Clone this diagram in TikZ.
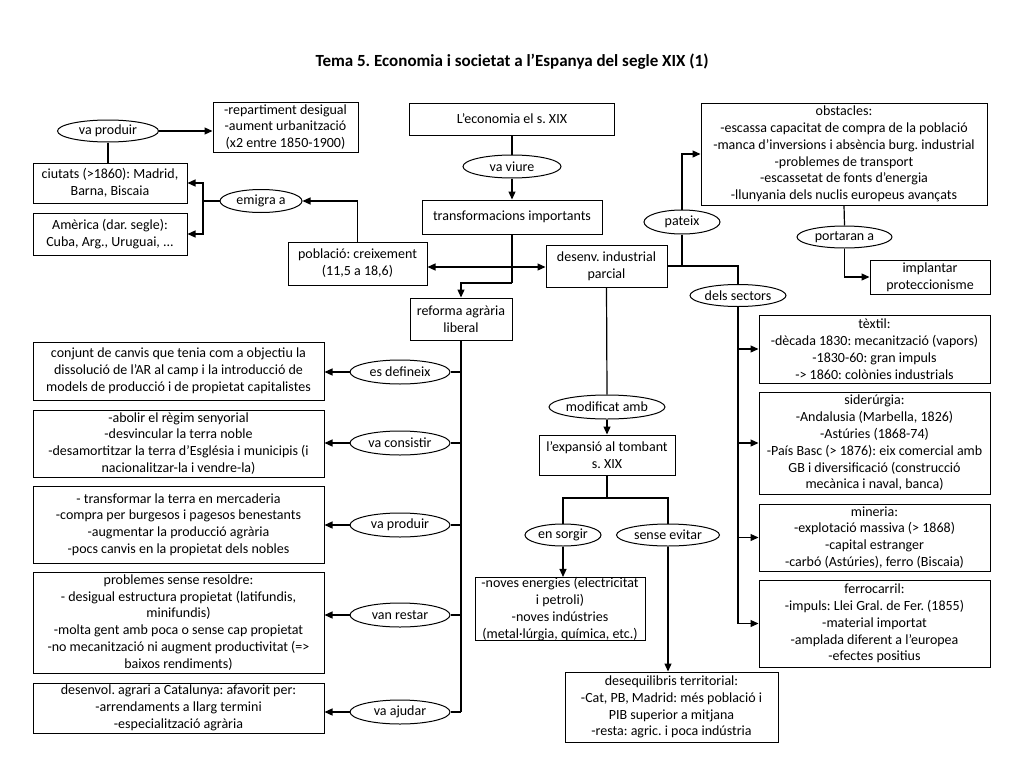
\documentclass[tikz,border=0pt]{standalone}
\usepackage{fontspec}
\setmainfont{Carlito}
\usetikzlibrary{shapes.geometric,arrows.meta}
\frenchspacing
\begin{document}
\begin{tikzpicture}[x=1pt,y=-1pt,
  txt/.style={font=\fontsize{14}{16.8}\selectfont},
  box/.style={txt,draw,line width=1pt,rectangle,inner sep=0pt,align=center},
  ell/.style={txt,draw,line width=1pt,ellipse,inner sep=0pt},
  wh/.style 2 args={minimum width=#1pt,minimum height=#2pt},
  con/.style={line width=1.2pt},
  arr/.style={con,-{Triangle[length=8pt,width=7pt]}},
  arrb/.style={con,{Triangle[length=8pt,width=7pt]}-{Triangle[length=8pt,width=7pt]}},
  ]
\useasboundingbox (0,0) rectangle (1024,768);
\node[font=\fontsize{17}{20}\selectfont\bfseries] (title) at (512,62) {Tema 5. Economia i societat a l’Espanya del segle XIX (1)};

% top left
\node[ell,wh={101}{22}] (vaprod1) at (108,131) {va produir};
\node[box,wh={145}{50}] (rep) at (285.5,127) {-repartiment desigual\\-aument urbanització\\(x2 entre 1850-1900)};
\node[box,wh={154}{40}] (ciutats) at (110,183) {ciutats (>1860): Madrid,\\Barna, Biscaia};
\node[box,wh={154}{42}] (america) at (110,234) {Amèrica (dar. segle):\\Cuba, Arg., Uruguai, ...};
\node[ell,wh={82}{23}] (emigra) at (261,201) {emigra a};
\node[box,wh={139}{43}] (poblacio) at (357.5,263.5) {població: creixement\\(11,5 a 18,6)};

% top center
\node[box,wh={205}{32}] (economia) at (512,119) {L’economia el s. XIX};
\node[ell,wh={98}{23}] (vaviure) at (512,166.5) {va viure};
\node[box,wh={180}{34}] (transf) at (512,217) {transformacions importants};
\node[box,wh={121}{42}] (desenv) at (606.5,266) {desenv. industrial\\parcial};
\node[box,wh={102}{42}] (reforma) at (461,319) {reforma agrària\\liberal};

% top right
\node[ell,wh={76}{24}] (pateix) at (682,222) {pateix};
\node[box,wh={286}{102}] (obst) at (844,154) {obstacles:\\-escassa capacitat de compra de la població\\-manca d’inversions i absència burg. industrial\\-problemes de transport\\-escassetat de fonts d’energia\\-llunyania dels nuclis europeus avançats};
\node[ell,wh={95}{22}] (portaran) at (844.5,237) {portaran a};
\node[box,wh={120}{34}] (implantar) at (930,277) {implantar\\proteccionisme};
\node[ell,wh={96}{22}] (dels) at (738,295.5) {dels sectors};

% right column
\node[box,wh={231}{68}] (textil) at (874.5,349) {tèxtil:\\-dècada 1830: mecanització (vapors)\\-1830-60: gran impuls\\-> 1860: colònies industrials};
\node[box,wh={231}{102}] (sider) at (874.5,443) {siderúrgia:\\-Andalusia (Marbella, 1826)\\-Astúries (1868-74)\\-País Basc (> 1876): eix comercial amb\\GB i diversificació (construcció\\mecànica i naval, banca)};
\node[box,wh={231}{67}] (mineria) at (874.5,537.5) {mineria:\\-explotació massiva (> 1868)\\-capital estranger\\-carbó (Astúries), ferro (Biscaia)};
\node[box,wh={231}{87}] (ferro) at (874.5,623.5) {ferrocarril:\\-impuls: Llei Gral. de Fer. (1855)\\-material importat\\-amplada diferent a l’europea\\-efectes positius};

% left column
\node[box,wh={291}{58}] (conjunt) at (178.5,371) {conjunt de canvis que tenia com a objectiu la\\dissolució de l’AR al camp i la introducció de\\models de producció i de propietat capitalistes};
\node[box,wh={291}{67}] (abolir) at (178.5,443.5) {-abolir el règim senyorial\\-desvincular la terra noble\\-desamortitzar la terra d’Església i municipis (i\\nacionalitzar-la i vendre-la)};
\node[box,wh={291}{77}] (transformar) at (178.5,524.5) {- transformar la terra en mercaderia\\-compra per burgesos i pagesos benestants\\-augmentar la producció agrària\\-pocs canvis en la propietat dels nobles};
\node[box,wh={291}{101}] (problemes) at (178.5,622.5) {problemes sense resoldre:\\- desigual estructura propietat (latifundis,\\minifundis)\\-molta gent amb poca o sense cap propietat\\-no mecanització ni augment productivitat (=>\\baixos rendiments)};
\node[box,wh={291}{50}] (desenvol) at (178.5,708) {desenvol. agrari a Catalunya: afavorit per:\\-arrendaments a llarg termini\\-especialització agrària};

\node[ell,wh={100}{24}] (esdef) at (400,372) {es defineix};
\node[ell,wh={100}{24}] (vacons) at (400,443) {va consistir};
\node[ell,wh={100}{24}] (vaprod2) at (400,525) {va produir};
\node[ell,wh={100}{24}] (vanrest) at (400,615) {van restar};
\node[ell,wh={100}{24}] (vaajud) at (400,712) {va ajudar};

% middle
\node[ell,wh={111}{24}] (modif) at (607,407) {modificat amb};
\node[box,wh={136}{40}] (expansio) at (607,455) {l’expansió al tombant\\s. XIX};
\node[ell,wh={76}{22}] (ensorgir) at (563,535) {en sorgir};
\node[ell,wh={103}{22}] (sense) at (668,535) {sense evitar};
\node[box,wh={170}{62}] (noves) at (560,609) {-noves energies (electricitat\\i petroli)\\-noves indústries\\(metal·lúrgia, química, etc.)};
\node[box,wh={213}{70}] (deseq) at (671.5,707) {desequilibris territorial:\\-Cat, PB, Madrid: més població i\\PIB superior a mitjana\\-resta: agric. i poca indústria};

% connectors top left
\draw[arr] (vaprod1.east) -- (vaprod1.east -| rep.west);
\draw[con] (vaprod1.south) -- (vaprod1.south |- ciutats.north);
\coordinate (brk) at (203,201);
\draw[con] (emigra.west) -- (brk);
\draw[arr] (brk) |- (ciutats.east);
\draw[arr] (brk) |- (america.east);
\draw[arr] (poblacio.north) |- (emigra.east);

% center
\draw[con] (economia.south) -- (vaviure.north);
\draw[arr] (vaviure.south) -- (transf.north);
\coordinate (tb) at (512,283);
\draw[con] (transf.south) -- (tb);
\draw[arr] (tb) -| (reforma.north);
\draw[arrb] (poblacio.east |- 0,267) -- (desenv.west |- 0,267);
\draw[con] (desenv.east) -| (dels.north);
\draw[con] (pateix.south) -- (pateix.south |- desenv.east);
\draw[arr] (pateix.north) |- (obst.west);
\draw[con] (obst.south) -- (portaran.north);
\draw[arr] (portaran.south) |- (implantar.west);

% right column
\draw[con] (dels.south) -- (dels.south |- ferro.west);
\foreach \b in {textil,sider,mineria,ferro}
  \draw[arr] (dels.south |- \b.west) -- (\b.west);

% left column
\draw[con] (reforma.south) -- (reforma.south |- vaajud.east);
\foreach \e/\b in {esdef/conjunt,vacons/abolir,vaprod2/transformar,vanrest/problemes,vaajud/desenvol}{
  \draw[con] (\e.east) -- (\e.east -| reforma.south);
  \draw[arr] (\e.west) -- (\e.west -| \b.east);
}

% middle
\draw[con] (desenv.south) -- (modif.north);
\draw[arr] (modif.south) -- (expansio.north);
\coordinate (eb) at (607,498);
\draw[con] (expansio.south) -- (eb);
\draw[con] (ensorgir.north) |- (eb) -| (sense.north);
\draw[arr] (ensorgir.south) -- (ensorgir.south |- noves.north);
\draw[arr] (sense.south) -- (sense.south |- deseq.north);
\end{tikzpicture}
\end{document}
